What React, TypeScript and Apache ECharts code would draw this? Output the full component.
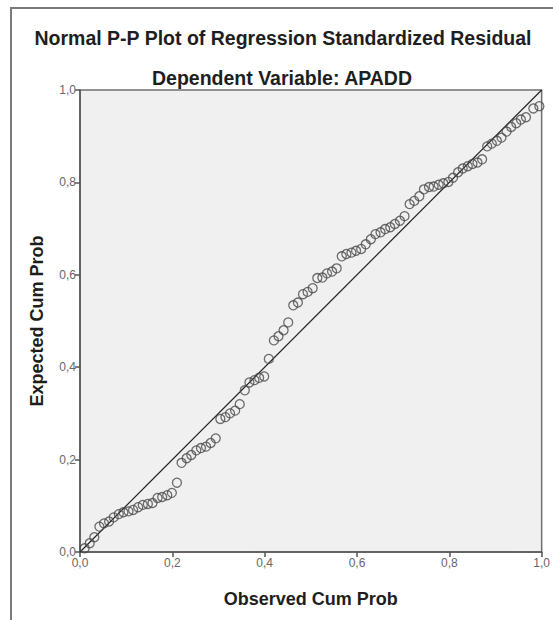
import React, { useEffect, useRef } from "react";
import * as echarts from "echarts";

const titleText = "Normal P-P Plot of Regression Standardized Residual";
const subtitleText = "Dependent Variable: APADD";
const xAxisName = "Observed Cum Prob";
const yAxisName = "Expected Cum Prob";

const observedCumProb: number[] = [
  0.010, 0.021, 0.031, 0.042, 0.052, 0.063, 0.073, 0.084, 0.094, 0.105,
  0.115, 0.126, 0.136, 0.147, 0.157, 0.168, 0.178, 0.189, 0.199, 0.210,
  0.220, 0.231, 0.241, 0.252, 0.262, 0.273, 0.283, 0.294, 0.304, 0.315,
  0.325, 0.336, 0.346, 0.357, 0.367, 0.378, 0.388, 0.399, 0.409, 0.420,
  0.430, 0.441, 0.451, 0.462, 0.472, 0.483, 0.493, 0.504, 0.514, 0.525,
  0.535, 0.546, 0.556, 0.567, 0.577, 0.588, 0.598, 0.609, 0.619, 0.630,
  0.640, 0.651, 0.661, 0.672, 0.682, 0.693, 0.703, 0.714, 0.724, 0.735,
  0.745, 0.756, 0.766, 0.777, 0.787, 0.798, 0.808, 0.819, 0.829, 0.840,
  0.850, 0.861, 0.871, 0.882, 0.892, 0.903, 0.913, 0.924, 0.934, 0.945,
  0.955, 0.966, 0.982, 0.995,
];

const expectedCumProb: number[] = [
  0.008, 0.019, 0.032, 0.055, 0.062, 0.066, 0.075, 0.082, 0.086, 0.088,
  0.091, 0.097, 0.102, 0.104, 0.106, 0.117, 0.119, 0.123, 0.128, 0.150,
  0.193, 0.203, 0.210, 0.220, 0.225, 0.228, 0.236, 0.246, 0.288, 0.292,
  0.300, 0.306, 0.320, 0.350, 0.367, 0.372, 0.377, 0.380, 0.418, 0.458,
  0.467, 0.480, 0.497, 0.534, 0.540, 0.558, 0.563, 0.571, 0.593, 0.594,
  0.603, 0.607, 0.614, 0.640, 0.645, 0.648, 0.652, 0.656, 0.666, 0.677,
  0.688, 0.692, 0.699, 0.703, 0.710, 0.717, 0.727, 0.753, 0.760, 0.770,
  0.785, 0.790, 0.791, 0.795, 0.798, 0.801, 0.810, 0.822, 0.830, 0.835,
  0.840, 0.843, 0.850, 0.878, 0.884, 0.890, 0.897, 0.910, 0.920, 0.928,
  0.936, 0.941, 0.960, 0.965,
];

const referenceLine: number[][] = [
  [0, 0],
  [1, 1],
];

const fmt = (v: number) => v.toFixed(1).replace(".", ",");

export default function App() {
  const ref = useRef<HTMLDivElement>(null);

  useEffect(() => {
    if (!ref.current) return;
    const chart = echarts.init(ref.current, null, { renderer: "svg" });
    const points = observedCumProb.map((x, i) => [x, expectedCumProb[i]]);
    const font = "'Liberation Sans', Arial, sans-serif";
    chart.setOption({
      animation: false,
      backgroundColor: "#ffffff",
      textStyle: { fontFamily: font },
      graphic: [
        {
          type: "rect",
          shape: { x: 11, y: 8, width: 700, height: 700 },
          style: { fill: "none", stroke: "#7a7a7a", lineWidth: 2 },
          silent: true,
          z: 0,
        },
        {
          type: "text",
          x: 283,
          y: 38,
          style: {
            text: titleText,
            font: `bold 19.5px ${font}`,
            fill: "#1e1e1e",
            textAlign: "center",
            textVerticalAlign: "middle",
          },
        },
        {
          type: "text",
          x: 282,
          y: 78,
          style: {
            text: subtitleText,
            font: `bold 19.5px ${font}`,
            fill: "#1e1e1e",
            textAlign: "center",
            textVerticalAlign: "middle",
          },
        },
      ],
      grid: {
        left: 80,
        top: 90,
        width: 466,
        height: 462,
        show: true,
        backgroundColor: "#f0f0f0",
        borderColor: "#707070",
        borderWidth: 1.5,
      },
      xAxis: {
        type: "value",
        min: 0,
        max: 1,
        interval: 0.2,
        name: xAxisName,
        nameLocation: "middle",
        nameGap: 38,
        nameTextStyle: { fontSize: 18, fontWeight: "bold", color: "#1e1e1e" },
        axisLine: { show: true, lineStyle: { color: "#555", width: 1.5 } },
        axisTick: { show: true, length: 5, lineStyle: { color: "#555", width: 1.5 } },
        axisLabel: { formatter: fmt, color: "#666", fontSize: 12, margin: 5 },
        splitLine: { show: false },
      },
      yAxis: {
        type: "value",
        min: 0,
        max: 1,
        interval: 0.2,
        name: yAxisName,
        nameLocation: "middle",
        nameGap: 34,
        nameTextStyle: { fontSize: 18, fontWeight: "bold", color: "#1e1e1e" },
        axisLine: { show: true, lineStyle: { color: "#555", width: 1.5 } },
        axisTick: { show: true, length: 5, lineStyle: { color: "#555", width: 1.5 } },
        axisLabel: { formatter: fmt, color: "#666", fontSize: 12, margin: 4 },
        splitLine: { show: false },
      },
      series: [
        {
          type: "line",
          data: referenceLine,
          symbol: "none",
          lineStyle: { color: "#222", width: 1.2 },
          silent: true,
          z: 2,
        },
        {
          type: "scatter",
          data: points,
          symbol: "circle",
          symbolSize: 9,
          itemStyle: { color: "rgba(0,0,0,0)", borderColor: "#4a4a4a", borderWidth: 1.3 },
          z: 3,
        },
      ],
    });
    return () => chart.dispose();
  }, []);

  return (
    <div
      ref={ref}
      style={{ position: "fixed", left: 0, top: 0, width: 553, height: 620 }}
    />
  );
}
